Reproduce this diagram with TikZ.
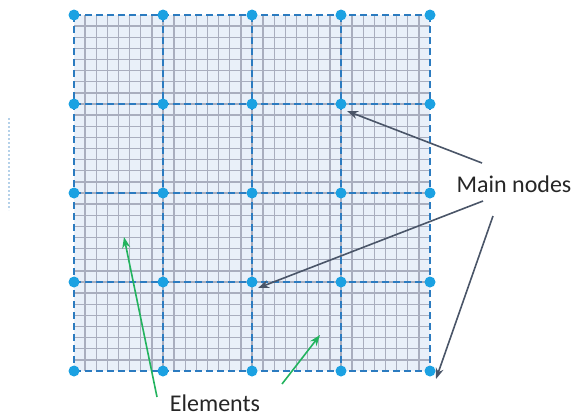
\documentclass[tikz,border=0pt]{standalone}
\usepackage{fontspec}
\setmainfont{Carlito}
\usetikzlibrary{arrows.meta}
\definecolor{meshblue}{HTML}{2B7BC0}
\definecolor{nodeblue}{HTML}{1BA1E2}
\definecolor{finegray}{HTML}{A9AEBE}
\definecolor{cellfill}{HTML}{E9F0F9}
\definecolor{pointer}{HTML}{4A5568}
\definecolor{elemgreen}{HTML}{22B35E}
\begin{document}
\begin{tikzpicture}[x=1pt,y=-1pt,
    mainnode/.style={circle,fill=nodeblue,inner sep=0pt,minimum size=11pt},
    mainline/.style={meshblue,line width=1.8pt,dash pattern=on 7pt off 4pt},
    fineline/.style={finegray,line width=1.4pt},
    label/.style={font=\fontsize{24}{28}\selectfont,text=black!85,inner sep=0pt},
    nodearrow/.style={pointer,line width=1.6pt,-{Stealth[length=11pt,width=8pt]}},
    elemarrow/.style={elemgreen,line width=1.6pt,-{Stealth[length=11pt,width=8pt]}}]
  \useasboundingbox (0,0) rectangle (580,418);

  % fine mesh
  \fill[cellfill] (74,15) rectangle (430,371);
  \foreach \k in {1,...,31} {
    \draw[fineline] (74+\k*11.125,15) -- (74+\k*11.125,371);
    \draw[fineline] (74,15+\k*11.125) -- (430,15+\k*11.125);
  }

  % element edges
  \foreach \k in {0,...,4} {
    \draw[mainline] (74+\k*89,15) -- (74+\k*89,371);
    \draw[mainline] (74,15+\k*89) -- (430,15+\k*89);
  }

  % main nodes
  \begin{scope}[every node/.style={mainnode}]
    \foreach \i in {0,...,4}
      \foreach \j in {0,...,4}
        \node (\i-\j) at (74+\i*89,15+\j*89) {};
  \end{scope}

  % faint mark at the left
  \draw[meshblue!35,line width=1.5pt,dash pattern=on 2pt off 2pt] (9,118) -- (9,210);

  % labels
  \node[label] (mainlbl) at (514,184) {Main nodes};
  \node[label] (elemlbl) at (215,403) {Elements};

  \coordinate (c1) at (124,237);
  \coordinate (c2) at (320,335);

  \draw[nodearrow] (482,163) -- ([shift={(6pt,-7pt)}]3-1.center);
  \draw[nodearrow] (483,201) -- ([shift={(6pt,-6pt)}]2-3.center);
  \draw[nodearrow] (493,216) -- ([shift={(6pt,-8pt)}]4-4.center);

  \draw[elemarrow] (157,397) -- (c1);
  \draw[elemarrow] (282,384) -- (c2);
\end{tikzpicture}
\end{document}
